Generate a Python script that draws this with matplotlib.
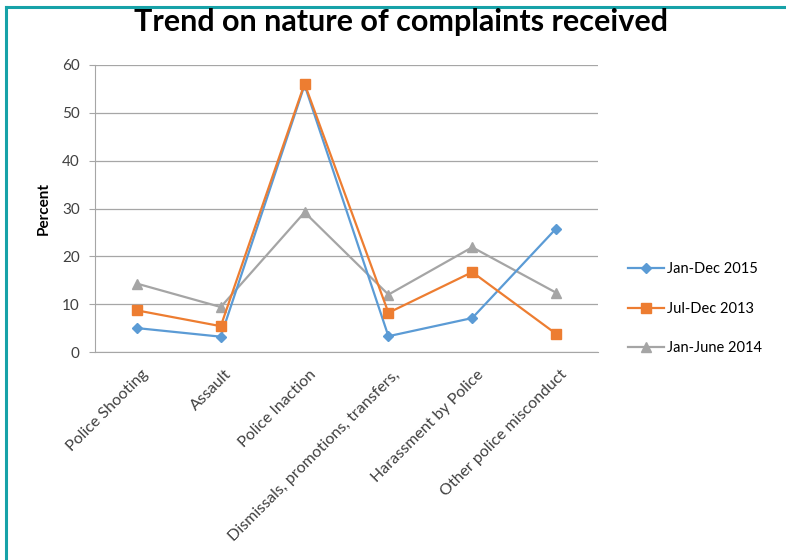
import matplotlib.pyplot as plt
import matplotlib.transforms as mtransforms
from matplotlib.lines import Line2D

plt.rcParams['font.family'] = ['Lato', 'DejaVu Sans']

categories = ['Police Shooting', 'Assault', 'Police Inaction',
              'Dismissals, promotions, transfers,', 'Harassment by Police',
              'Other police misconduct']
jan_dec_2015 = [5.0, 3.2, 55.8, 3.3, 7.1, 25.8]
jul_dec_2013 = [8.7, 5.4, 56.1, 8.2, 16.7, 3.8]
jan_jun_2014 = [14.3, 9.4, 29.2, 12.0, 21.9, 12.4]

fig = plt.figure(figsize=(7.86, 5.60), dpi=100)
ax = fig.add_axes([95/786, 208/560, 503/786, 287/560])

x = range(len(categories))
ax.plot(x, jan_dec_2015, color='#5b9bd5', lw=1.6, marker='D', ms=5, label='Jan-Dec 2015', zorder=3)
ax.plot(x, jul_dec_2013, color='#ed7d31', lw=1.6, marker='s', ms=7, label='Jul-Dec 2013', zorder=3)
ax.plot(x, jan_jun_2014, color='#a5a5a5', lw=1.6, marker='^', ms=7, label='Jan-June 2014', zorder=2)

ax.set_xlim(-0.5, 5.5)
ax.set_ylim(0, 60)
ax.set_yticks(range(0, 61, 10))
ax.yaxis.grid(True, color='#a6a6a6', lw=0.9)
ax.set_axisbelow(True)
for s in ['top', 'right']:
    ax.spines[s].set_visible(False)
ax.spines['left'].set_color('#a6a6a6')
ax.spines['bottom'].set_color('#a6a6a6')
ax.tick_params(axis='y', length=4, color='#a6a6a6', labelsize=11, labelcolor='#404040', pad=7)
ax.tick_params(axis='x', length=0, labelsize=11.5, labelcolor='#404040', pad=11)
ax.set_xticks(list(x))
ax.set_xticklabels(categories, rotation=45, ha='right', rotation_mode='anchor')
# nudge the slanted labels a little to the right of their ticks
shift = mtransforms.ScaledTranslation(4/100, 0, fig.dpi_scale_trans)
for lab in ax.get_xticklabels():
    lab.set_transform(lab.get_transform() + shift)
ax.set_ylabel('Percent', fontsize=11, fontweight='bold', labelpad=8)

fig.text(0.51, 0.961, 'Trend on nature of complaints received', ha='center', va='center',
         fontsize=22, fontweight='bold')

ax.legend(loc='center left', bbox_to_anchor=(1.033, 0.15), frameon=False, fontsize=10.5,
          handlelength=2.5, labelspacing=1.75, handletextpad=0.2)

# teal frame on the top and left edges
fig.add_artist(Line2D([6/786, 1], [1 - 7/560, 1 - 7/560], transform=fig.transFigure,
                      color='#17a2a8', lw=2.2))
fig.add_artist(Line2D([6/786, 6/786], [0, 1 - 7/560], transform=fig.transFigure,
                      color='#17a2a8', lw=2.2))

fig.savefig('out.png', dpi=100)
